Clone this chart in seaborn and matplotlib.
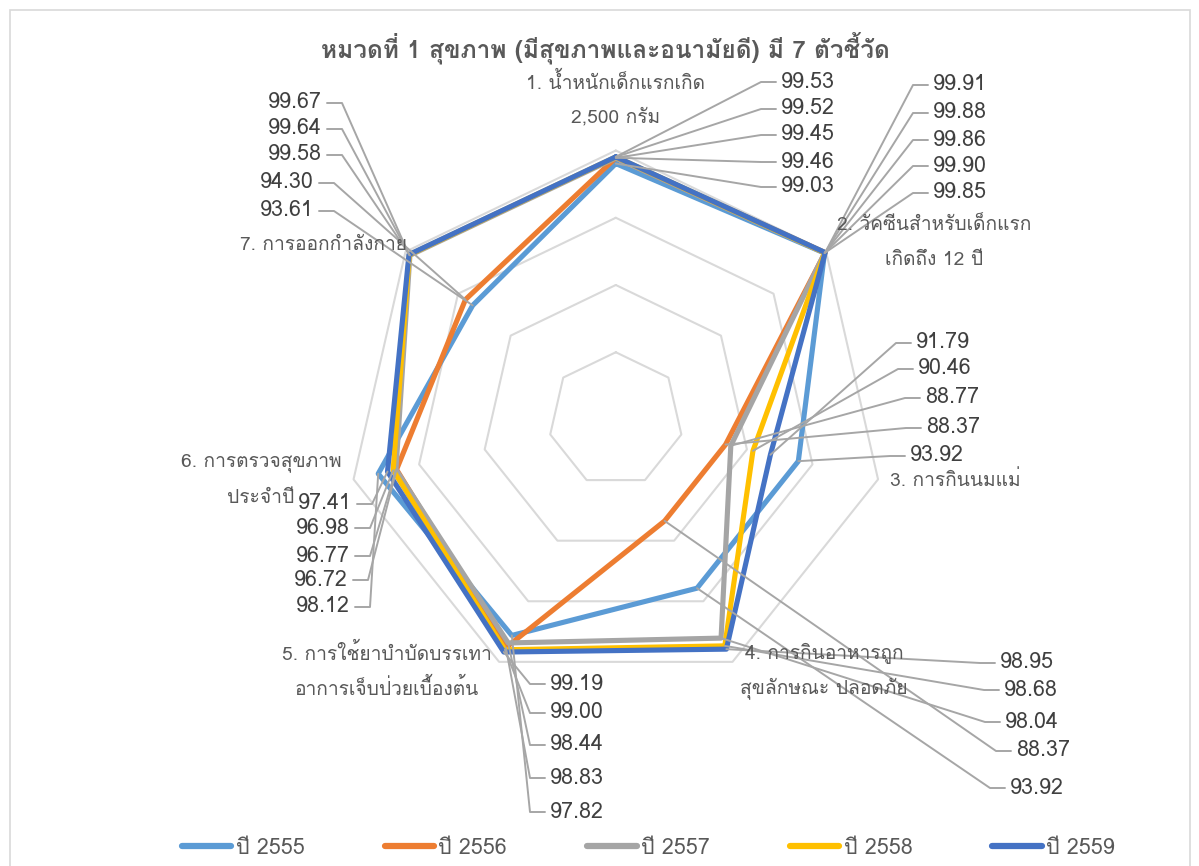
import numpy as np
import pandas as pd
import matplotlib
matplotlib.use("Agg")
import matplotlib.pyplot as plt
import seaborn as sns
from matplotlib import font_manager
from matplotlib.lines import Line2D
from matplotlib.patches import Rectangle
from fontTools.ttLib import TTFont

# ---- data -------------------------------------------------------------
categories = [
    "1. น้ำหนักเด็กแรกเกิด\n2,500 กรัม",
    "2. วัคซีนสำหรับเด็กแรก\nเกิดถึง 12 ปี",
    "3. การกินนมแม่",
    "4. การกินอาหารถูก\nสุขลักษณะ ปลอดภัย",
    "5. การใช้ยาบำบัดบรรเทา\nอาการเจ็บป่วยเบื้องต้น",
    "6. การตรวจสุขภาพ\nประจำปี",
    "7. การออกกำลังกาย",
]
years = ["ปี 2555", "ปี 2556", "ปี 2557", "ปี 2558", "ปี 2559"]
v2555 = [99.03, 99.85, 93.92, 93.92, 97.82, 98.12, 93.61]
v2556 = [99.46, 99.90, 88.37, 88.37, 98.83, 96.72, 94.30]
v2557 = [99.45, 99.86, 88.77, 98.04, 98.44, 96.77, 99.58]
v2558 = [99.52, 99.88, 90.46, 98.68, 99.00, 96.98, 99.64]
v2559 = [99.53, 99.91, 91.79, 98.95, 99.19, 97.41, 99.67]
colors = ["#5B9BD5", "#ED7D31", "#A5A5A5", "#FFC000", "#4472C4"]
r_min, r_max = 80, 100

title = "หมวดที่ 1 สุขภาพ (มีสุขภาพและอนามัยดี) มี 7 ตัวชี้วัด"

# ---- layout (image pixels) ---------------------------------------------
W, H = 1199, 866
CX, CY, R = 615.8, 419.5, 269.0

# category label: centre x, first line y
cat_pos = [(616, 82), (934, 225), (955, 480), (824, 653),
           (387, 653), (261, 463), (323, 245)]
cat_dy = 35

# data labels, listed 2559 -> 2555 (top to bottom); x is the edge near the leader
lab_x = [[781] * 5, [933] * 5, [916, 918, 925, 926, 910],
         [1000, 1004, 1005, 1016, 1010], [550] * 5,
         [352, 350, 350, 348, 350], [322, 322, 322, 314, 314]]
lab_y = [[82, 109, 135, 162, 187], [85, 113, 140, 166, 193],
         [343, 369, 398, 428, 456], [663, 690, 722, 751, 788],
         [684, 713, 745, 778, 812], [504, 528, 556, 580, 607],
         [103, 129, 155, 183, 211]]
lab_side = ["left", "left", "left", "left", "left", "right", "right"]


def thai_font():
    found = []
    for f in font_manager.fontManager.ttflist:
        try:
            cmap = TTFont(f.fname, fontNumber=0, lazy=True).getBestCmap()
        except Exception:
            continue
        if cmap and 0x0E01 in cmap:
            found.append(f)
    if not found:
        return "DejaVu Sans"
    names = [f.name for f in found]
    bold = [f.name for f in found if f.weight in ("bold", 700) or
            (isinstance(f.weight, int) and f.weight >= 700)]
    for pref in ["Noto Sans Thai", "Noto Sans Thai UI", "Loma", "Garuda"]:
        if pref in bold:
            return pref
    if bold:
        return bold[0]
    for pref in ["Noto Sans Thai", "Noto Sans Thai UI", "Loma", "Garuda"]:
        if pref in names:
            return pref
    return names[0]


def to_data(px, py):
    return (px - CX) / R, (CY - py) / R


sns.set_theme(style="white")
thai = thai_font()
plt.rcParams["font.family"] = [thai, "DejaVu Sans"]

series = [v2555, v2556, v2557, v2558, v2559]
n = len(categories)
theta = np.arange(n) * 2 * np.pi / n

rows = []
for year, vals in zip(years, series):
    for i in list(range(n)) + [0]:
        frac = (vals[i] - r_min) / (r_max - r_min)
        rows.append({"year": year, "x": frac * np.sin(theta[i]),
                     "y": frac * np.cos(theta[i])})
df = pd.DataFrame(rows)

fig = plt.figure(figsize=(W / 100, H / 100), dpi=100)
lim = 1.05
ax = fig.add_axes([(CX - lim * R) / W, (H - CY - lim * R) / H,
                   2 * lim * R / W, 2 * lim * R / H])
ax.set_xlim(-lim, lim)
ax.set_ylim(-lim, lim)
ax.axis("off")

# chart border
fig.add_artist(Rectangle((10 / W, -0.05), 1180 / W, (H - 10) / H + 0.05,
                         transform=fig.transFigure, fill=False,
                         edgecolor="#D9D9D9", lw=1.2))

# heptagon grid
for level in [85, 90, 95, 100]:
    frac = (level - r_min) / (r_max - r_min)
    t = np.append(theta, theta[0])
    ax.plot(frac * np.sin(t), frac * np.cos(t), color="#D9D9D9", lw=1.5, zorder=1)

sns.lineplot(data=df, x="x", y="y", hue="year", hue_order=years,
             palette=colors, sort=False, estimator=None, lw=3.7,
             legend=False, ax=ax, zorder=3)
for line in ax.lines:
    line.set_solid_joinstyle("round")

# category labels
for (cx, cy), label in zip(cat_pos, categories):
    for k, part in enumerate(label.split("\n")):
        x, y = to_data(cx, cy + k * cat_dy)
        ax.text(x, y, part, ha="center", va="center", fontsize=13.8,
                color="#595959", zorder=5)

# data labels with leader lines
for i in range(n):
    for j, s in enumerate(range(4, -1, -1)):
        val = series[s][i]
        frac = (val - r_min) / (r_max - r_min)
        px, py = frac * np.sin(theta[i]), frac * np.cos(theta[i])
        lx, ly = lab_x[i][j], lab_y[i][j]
        if lab_side[i] == "left":
            e0, e1 = lx - 20, lx - 5
            ha = "left"
        else:
            e0, e1 = lx + 20, lx + 5
            ha = "right"
        a = to_data(e0, ly)
        b = to_data(e1, ly)
        ax.plot([px, a[0], b[0]], [py, a[1], b[1]], color="#A6A6A6",
                lw=1.4, zorder=4, clip_on=False)
        tx, ty = to_data(lx, ly)
        ax.text(tx, ty, f"{val:.2f}", ha=ha, va="center", fontsize=15.5,
                color="#404040", zorder=5)

fig.text(605 / W, 1 - 48 / H, title, ha="center", va="center",
         fontsize=17.6, fontweight="bold", color="#595959")

handles = [Line2D([0], [0], color=c, lw=4.5, solid_capstyle="round") for c in colors]
fig.legend(handles, years, loc="center", bbox_to_anchor=(648.5 / W, 1 - 848 / H),
           ncol=5, frameon=False, fontsize=15.5, handlelength=2.3,
           handletextpad=0.2, columnspacing=3.72, labelcolor="#595959")

fig.savefig("out.png", dpi=100)
